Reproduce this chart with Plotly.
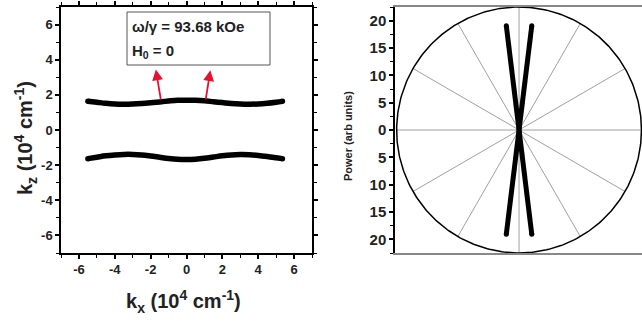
import numpy as np
import plotly.graph_objects as go

# ---------------- data ----------------
kx = [-5.5, -5.0, -4.5, -4.0, -3.5, -3.0, -2.5, -2.0, -1.5, -1.0, -0.5, 0.0,
      0.5, 1.0, 1.5, 2.0, 2.5, 3.0, 3.5, 4.0, 4.5, 5.0, 5.35]
kz_upper = [1.64, 1.58, 1.52, 1.48, 1.47, 1.48, 1.51, 1.55, 1.60, 1.65, 1.69, 1.70,
            1.69, 1.66, 1.61, 1.56, 1.51, 1.48, 1.47, 1.48, 1.52, 1.58, 1.63]
kz_lower = [-1.63, -1.55, -1.47, -1.42, -1.39, -1.39, -1.42, -1.48, -1.55, -1.62, -1.67, -1.68,
            -1.66, -1.61, -1.54, -1.47, -1.42, -1.40, -1.41, -1.45, -1.51, -1.58, -1.63]

# group-velocity arrows (base -> tip) in (kx, kz)
arrow_base_x = [-1.42, 1.06]
arrow_base_y = [1.66, 1.66]
arrow_tip_x = [-1.71, 1.33]
arrow_tip_y = [3.44, 3.40]

x_ticks = [-6, -4, -2, 0, 2, 4, 6]
y_ticks = [-6, -4, -2, 0, 2, 4, 6]
x_ticktext = ["-6", "-4", "-2", "0", "2", "4", "6"]
y_ticktext = ["-6", "-4", "-2", "0", "2", "4", "6"]

# polar radiation pattern
lobe_angles_deg = [97.0, 83.0]
lobe_power = [19.2, 19.2]
polar_max = 22.5
spoke_angles_deg = [0, 30, 60, 90, 120, 150, 180, 210, 240, 270, 300, 330]
power_ticks = [-20, -15, -10, -5, 0, 5, 10, 15, 20]
power_ticktext = ["20", "15", "10", "5", "0", "5", "10", "15", "20"]

# ---------------- figure ----------------
FONT = "Arial"
TXT = "#222222"
W, H = 642, 324
fig = go.Figure()

# left panel curves
for kz in (kz_upper, kz_lower):
    fig.add_trace(go.Scatter(x=kx, y=kz, mode="lines", line=dict(color="black", width=5.5, shape="spline"),
                             xaxis="x", yaxis="y", showlegend=False, hoverinfo="skip"))
    fig.add_trace(go.Scatter(x=[kx[0], kx[-1]], y=[kz[0], kz[-1]], mode="markers",
                             marker=dict(color="black", size=5.5), xaxis="x", yaxis="y",
                             showlegend=False, hoverinfo="skip"))

# right panel: spokes
for a in spoke_angles_deg:
    t = np.deg2rad(a)
    fig.add_trace(go.Scatter(x=[0, polar_max * np.cos(t)], y=[0, polar_max * np.sin(t)], mode="lines",
                             line=dict(color="#a0a0a0", width=1), xaxis="x2", yaxis="y2",
                             showlegend=False, hoverinfo="skip"))
# circle
th = np.linspace(0, 2 * np.pi, 361)
fig.add_trace(go.Scatter(x=polar_max * np.cos(th), y=polar_max * np.sin(th), mode="lines",
                         line=dict(color="black", width=1.5), xaxis="x2", yaxis="y2",
                         showlegend=False, hoverinfo="skip"))
# lobes
for a, p in zip(lobe_angles_deg, lobe_power):
    t = np.deg2rad(a)
    xs = [p * np.cos(t), -p * np.cos(t)]
    ys = [p * np.sin(t), -p * np.sin(t)]
    fig.add_trace(go.Scatter(x=xs, y=ys, mode="lines+markers", line=dict(color="black", width=5),
                             marker=dict(color="black", size=5), xaxis="x2", yaxis="y2",
                             showlegend=False, hoverinfo="skip"))

tickfont = dict(family=FONT, size=13, color=TXT, weight=700)

def px_x(p):
    return p / W

def px_y(p):
    return 1 - p / H

LX = [px_x(61), px_x(312)]
LY = [px_y(253), px_y(7)]
major = dict(ticks="outside", ticklen=4, tickwidth=1.5, tickcolor="black")
minor = dict(dtick=1, ticks="outside", ticklen=3, tickwidth=1, tickcolor="black")

fig.update_layout(
    width=W, height=H, margin=dict(l=0, r=0, t=0, b=0),
    paper_bgcolor="white", plot_bgcolor="white",
    font=dict(family=FONT, weight=700),
    xaxis=dict(domain=LX, range=[-7, 7], tickvals=x_ticks, ticktext=x_ticktext, **major, minor=minor,
               showline=True, linecolor="black", linewidth=1.5,
               showgrid=False, zeroline=False, tickfont=tickfont, anchor="y"),
    yaxis=dict(domain=LY, range=[-7, 7], tickvals=y_ticks, ticktext=y_ticktext, **major, minor=minor,
               showline=True, linecolor="black", linewidth=1.5,
               showgrid=False, zeroline=False, tickfont=tickfont, anchor="x"),
    # mirrored frame (top / right) with ticks, no labels
    xaxis3=dict(domain=LX, range=[-7, 7], tickvals=x_ticks, **major, minor=minor, side="top",
                overlaying="x", anchor="y", showticklabels=False,
                showline=True, linecolor="black", linewidth=1.5, showgrid=False, zeroline=False),
    yaxis3=dict(domain=LY, range=[-7, 7], tickvals=y_ticks, **major, minor=minor, side="right",
                overlaying="y", anchor="x", showticklabels=False,
                showline=True, linecolor="black", linewidth=1.5, showgrid=False, zeroline=False),
    xaxis2=dict(domain=[px_x(395), 1.0], range=[-22.8, 22.6], showticklabels=False, ticks="",
                showline=True, linecolor="#888888", linewidth=1.5, mirror=True,
                showgrid=False, zeroline=False, anchor="y2"),
    yaxis2=dict(domain=LY, range=[-22.5, 22.5], tickvals=power_ticks,
                ticktext=power_ticktext,
                ticks="outside", ticklen=4, tickwidth=1.5, tickcolor="black",
                minor=dict(dtick=2.5, ticks="outside", ticklen=3, tickwidth=1, tickcolor="black"),
                showline=True, linecolor="black", linewidth=1.5, mirror=False,
                showgrid=False, zeroline=False,
                tickfont=dict(family=FONT, size=15, color=TXT, weight=700),
                anchor="x2"),
)
# dummy trace to activate mirrored axes
fig.add_trace(go.Scatter(x=[None], y=[None], xaxis="x3", yaxis="y3", showlegend=False, hoverinfo="skip"))

annotations = []
boxfont = dict(family=FONT, size=15, color=TXT, weight=700)
annotations.append(dict(xref="paper", yref="paper", x=px_x(130), y=px_y(26.5), xanchor="left", yanchor="middle",
                        text="ω/γ = 93.68 kOe", showarrow=False, font=boxfont))
annotations.append(dict(xref="paper", yref="paper", x=px_x(130), y=px_y(51), xanchor="left", yanchor="middle",
                        text="H<sub>0</sub> = 0", showarrow=False, font=boxfont))
# arrows
for bx, by, tx, ty in zip(arrow_base_x, arrow_base_y, arrow_tip_x, arrow_tip_y):
    annotations.append(dict(xref="x", yref="y", axref="x", ayref="y", x=tx, y=ty, ax=bx, ay=by,
                            text="", showarrow=True, arrowhead=2, arrowsize=1.2, arrowwidth=1.8,
                            arrowcolor="#e8102e"))
# axis titles
titlefont = dict(family=FONT, size=20, color=TXT, weight=700)
annotations.append(dict(xref="paper", yref="paper", x=px_x(184), y=px_y(301), xanchor="center", yanchor="middle",
                        text="k<sub>x</sub> (10<sup>4</sup> cm<sup>-1</sup>)", showarrow=False, font=titlefont))
annotations.append(dict(xref="paper", yref="paper", x=px_x(25), y=px_y(138), xanchor="center", yanchor="middle",
                        text="k<sub>z</sub> (10<sup>4</sup> cm<sup>-1</sup>)", showarrow=False, textangle=-90,
                        font=titlefont))
annotations.append(dict(xref="paper", yref="paper", x=px_x(348), y=px_y(136), xanchor="center", yanchor="middle",
                        text="Power (arb units)", showarrow=False, textangle=-90,
                        font=dict(family=FONT, size=11, color=TXT, weight=700)))
fig.update_layout(annotations=annotations)

fig.add_shape(type="rect", xref="paper", yref="paper", x0=px_x(127), x1=px_x(270), y0=px_y(65), y1=px_y(12),
              line=dict(color="#555555", width=1), fillcolor="rgba(0,0,0,0)")

fig.write_html("out.html")
